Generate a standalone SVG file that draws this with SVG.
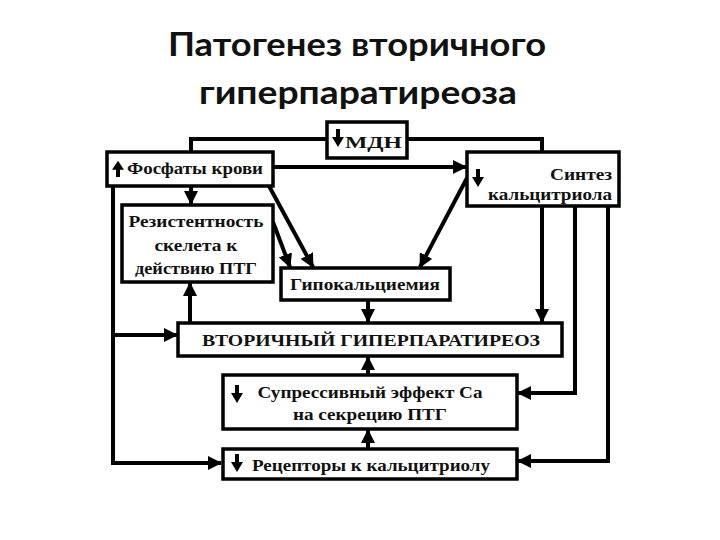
<svg xmlns="http://www.w3.org/2000/svg" width="720" height="540" viewBox="0 0 720 540">
<style>
.title{font-family:"Lato","Liberation Sans",sans-serif;font-weight:700;font-size:33px;fill:#111;text-anchor:middle}
.box{fill:#fff;stroke:#000;stroke-width:3.5}
.t{font-family:"Liberation Serif","Times New Roman",serif;font-weight:700;font-size:17px;fill:#111}
.c{text-anchor:middle}
.ln{fill:none;stroke:#000;stroke-width:4}
</style>
<defs>
<marker id="ah" markerUnits="userSpaceOnUse" markerWidth="14" markerHeight="14" viewBox="0 0 14 14" refX="13" refY="7" orient="auto">
<path d="M0,0 L14,7 L0,14 Z" fill="#000"/>
</marker>
<g id="down">
<rect x="-2" y="0" width="4" height="11" fill="#000"/>
<path d="M-6,8 L6,8 L0,18 Z" fill="#000"/>
</g>
</defs>
<rect width="720" height="540" fill="#fff"/>
<text class="title" x="357" y="56" textLength="378" lengthAdjust="spacingAndGlyphs">Патогенез вторичного</text>
<text class="title" x="358" y="104" textLength="318" lengthAdjust="spacingAndGlyphs">гиперпаратиреоза</text>

<g id="connectors">
<polyline class="ln" points="327,139 191,139 191,152"/>
<polyline class="ln" points="407,139 542,139 542,152"/>
<polyline class="ln" points="273,167 466,167" marker-end="url(#ah)"/>
<polyline class="ln" points="191,186 191,204" marker-end="url(#ah)"/>
<polyline class="ln" points="113,186 113,463 221,463" marker-end="url(#ah)"/>
<polyline class="ln" points="113,335 177,335" marker-end="url(#ah)"/>
<polyline class="ln" points="269,186 313,267" marker-end="url(#ah)"/>
<polyline class="ln" points="273,222 290,267" marker-end="url(#ah)"/>
<polyline class="ln" points="467,178 420,267" marker-end="url(#ah)"/>
<polyline class="ln" points="542,206 542,322" marker-end="url(#ah)"/>
<polyline class="ln" points="575,206 575,393 518,393" marker-end="url(#ah)"/>
<polyline class="ln" points="608,206 608,461 518,461" marker-end="url(#ah)"/>
<polyline class="ln" points="368,300 368,322" marker-end="url(#ah)"/>
<polyline class="ln" points="190,323 190,283" marker-end="url(#ah)"/>
<polyline class="ln" points="368,375 368,357" marker-end="url(#ah)"/>
<polyline class="ln" points="368,449 368,430" marker-end="url(#ah)"/>
</g>

<g id="mdn">
<rect class="box" x="327" y="122" width="80" height="36"/>
<use href="#down" x="338" y="129"/>
<text class="t" x="345" y="148" textLength="57" lengthAdjust="spacingAndGlyphs">МДН</text>
</g>
<g id="phosphates">
<rect class="box" x="107" y="152" width="166" height="34"/>
<use href="#down" transform="translate(118,177) scale(1,-0.9)"/>
<text class="t" x="127" y="174" textLength="136" lengthAdjust="spacingAndGlyphs">Фосфаты крови</text>
</g>
<g id="synthesis">
<rect class="box" x="467" y="152" width="152" height="54"/>
<use href="#down" x="478" y="169"/>
<text class="t" x="612" y="180" text-anchor="end" textLength="62" lengthAdjust="spacingAndGlyphs">Синтез</text>
<text class="t" x="612" y="200" text-anchor="end" textLength="124" lengthAdjust="spacingAndGlyphs">кальцитриола</text>
</g>
<g id="resistance">
<rect class="box" x="122" y="205" width="151" height="77"/>
<text class="t c" x="196" y="227" textLength="135" lengthAdjust="spacingAndGlyphs">Резистентность</text>
<text class="t c" x="196" y="251" textLength="83" lengthAdjust="spacingAndGlyphs">скелета к</text>
<text class="t c" x="196" y="274" textLength="122" lengthAdjust="spacingAndGlyphs">действию ПТГ</text>
</g>
<g id="hypocalcemia">
<rect class="box" x="281" y="268" width="169" height="32"/>
<text class="t c" x="365" y="290" textLength="150" lengthAdjust="spacingAndGlyphs">Гипокальциемия</text>
</g>
<g id="hpt">
<rect class="box" x="178" y="323" width="384" height="33"/>
<text class="t c" x="371" y="346" textLength="338" lengthAdjust="spacingAndGlyphs">ВТОРИЧНЫЙ  ГИПЕРПАРАТИРЕОЗ</text>
</g>
<g id="suppressive">
<rect class="box" x="223" y="375" width="294" height="54"/>
<use href="#down" x="237" y="385"/>
<text class="t c" x="370" y="398" textLength="225" lengthAdjust="spacingAndGlyphs">Супрессивный эффект Са</text>
<text class="t c" x="370" y="420" textLength="154" lengthAdjust="spacingAndGlyphs">на секрецию ПТГ</text>
</g>
<g id="receptors">
<rect class="box" x="223" y="449" width="294" height="30"/>
<use href="#down" x="237" y="454"/>
<text class="t" x="252" y="471" textLength="238" lengthAdjust="spacingAndGlyphs">Рецепторы к кальцитриолу</text>
</g>
</svg>
